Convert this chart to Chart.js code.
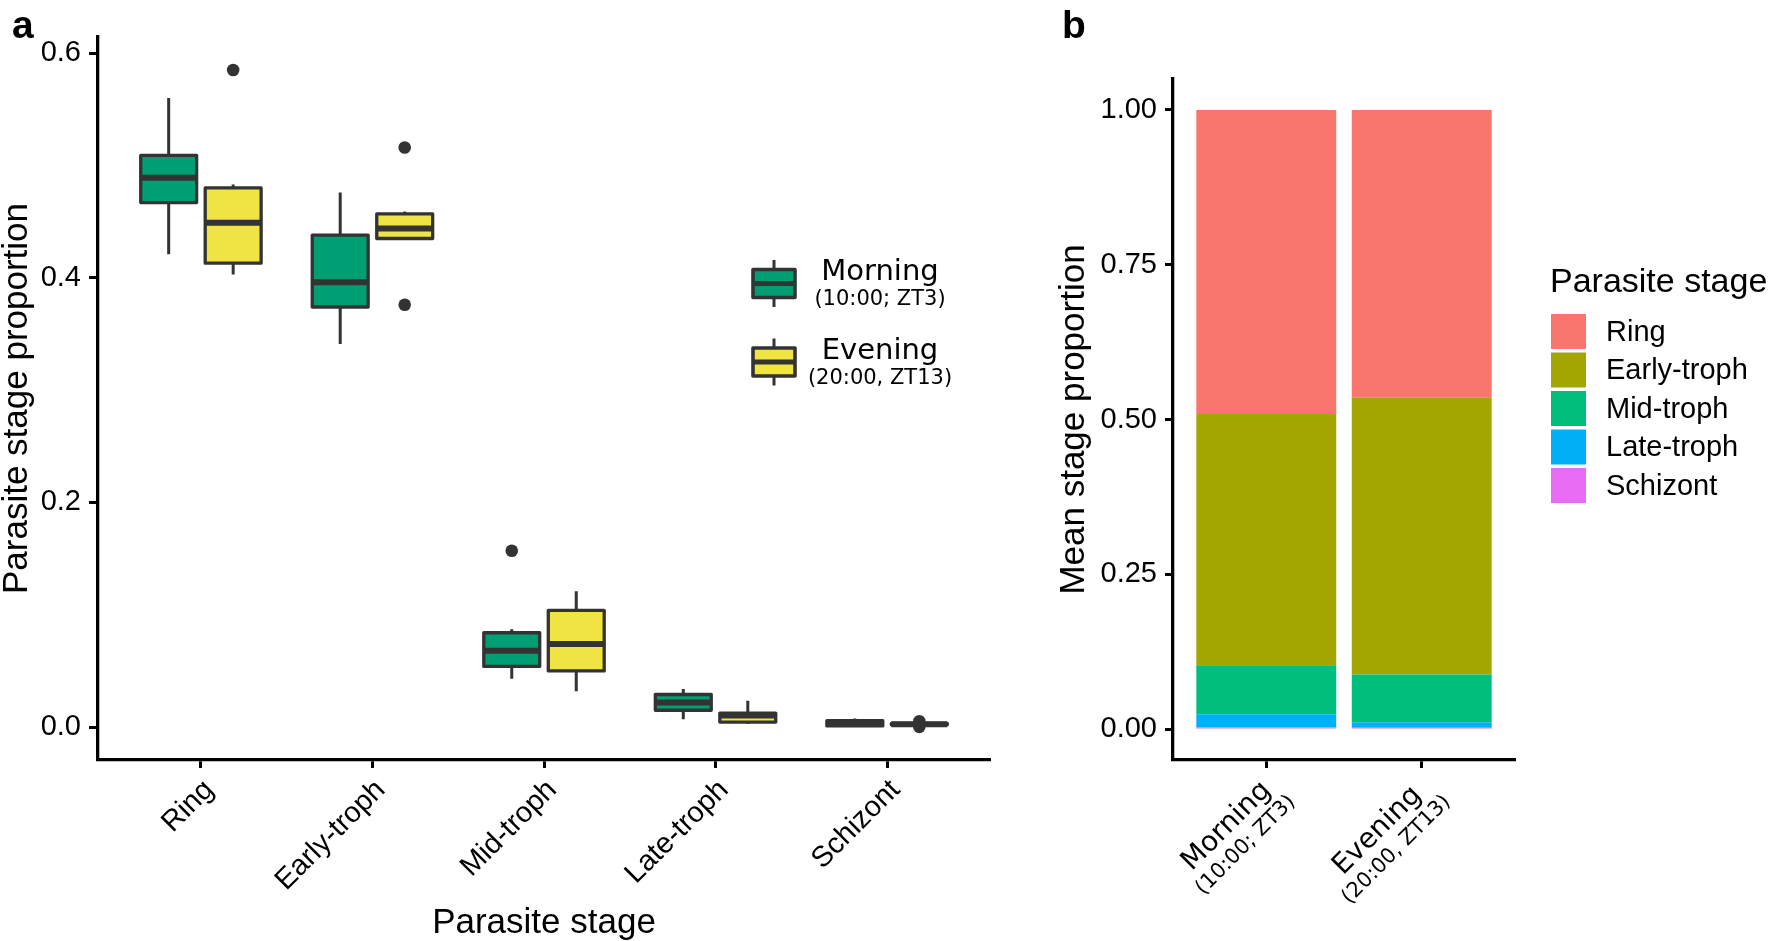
<!DOCTYPE html>
<html>
<head>
<meta charset="utf-8">
<script src="https://cdn.jsdelivr.net/npm/chart.js@4.4.0/dist/chart.umd.min.js"></script>
<style>
    body { margin: 0; background: #fff; overflow: hidden; }
    #wrap { position: relative; width: 1773px; height: 941px; }
    canvas { position: absolute; top: 0; }
    #boxChart { left: 0; }
    #barChart { left: 1000px; }
</style>
</head>
<body>
<div id="wrap">
    <canvas id="boxChart" width="1000" height="941"></canvas>
    <canvas id="barChart" width="773" height="941"></canvas>
</div>
<script>
const stages = ['Ring', 'Early-troph', 'Mid-troph', 'Late-troph', 'Schizont'];
const times = ['Morning', 'Evening'];
const timeNotes = ['(10:00; ZT3)', '(20:00, ZT13)'];

// panel a: box statistics per stage
const morningWhiskerLow = [0.421, 0.341, 0.043, 0.007, 0.0005];
const morningQ1 = [0.467, 0.374, 0.054, 0.015, 0.001];
const morningMedian = [0.489, 0.396, 0.068, 0.022, 0.003];
const morningQ3 = [0.509, 0.438, 0.084, 0.029, 0.0057];
const morningWhiskerHigh = [0.560, 0.476, 0.087, 0.034, 0.0077];
const morningOutliers = [[], [], [0.157], [], []];

const eveningWhiskerLow = [0.403, 0.435, 0.032, 0.003, 0.0012];
const eveningQ1 = [0.413, 0.435, 0.050, 0.0045, 0.002];
const eveningMedian = [0.449, 0.444, 0.074, 0.0104, 0.0026];
const eveningQ3 = [0.480, 0.457, 0.104, 0.0125, 0.0032];
const eveningWhiskerHigh = [0.483, 0.459, 0.121, 0.0235, 0.0042];
const eveningOutliers = [[0.585], [0.516, 0.376], [], [], [0.0052, 0.0002]];

const stageTicks = [0, 0.2, 0.4, 0.6];

// panel b: mean stage proportions (Morning, Evening)
const meanRing = [0.491, 0.465];
const meanEarly = [0.406, 0.447];
const meanMid = [0.079, 0.077];
const meanLate = [0.021, 0.009];
const meanSchizont = [0.003, 0.002];
const meanTicks = [0, 0.25, 0.5, 0.75, 1];

const timeColors = ['#009E73', '#F0E442'];
const stageColors = ['#F8766D', '#A3A500', '#00BF7D', '#00B0F6', '#E76BF3'];

const SANS = "'Liberation Sans', Arial, sans-serif";
const VERD = "'DejaVu Sans', Verdana, sans-serif";
const BOX_LINE = '#333333';

Chart.defaults.font.family = SANS;
Chart.defaults.color = '#000';

const boxSeries = [
    { low: morningWhiskerLow, q1: morningQ1, median: morningMedian, q3: morningQ3, high: morningWhiskerHigh, outliers: morningOutliers },
    { low: eveningWhiskerLow, q1: eveningQ1, median: eveningMedian, q3: eveningQ3, high: eveningWhiskerHigh, outliers: eveningOutliers }
];

// whiskers, outlines, medians and outliers on top of the floating bars
const boxPlotPlugin = {
    id: 'boxPlot',
    afterDatasetsDraw(chart) {
        const ctx = chart.ctx;
        const yScale = chart.scales.y;
        ctx.save();
        ctx.strokeStyle = BOX_LINE;
        ctx.fillStyle = BOX_LINE;
        boxSeries.forEach((s, di) => {
            chart.getDatasetMeta(di).data.forEach((bar, i) => {
                const x = bar.x;
                const half = bar.width / 2;
                const yLow = yScale.getPixelForValue(s.low[i]);
                const yQ1 = yScale.getPixelForValue(s.q1[i]);
                const yMed = yScale.getPixelForValue(s.median[i]);
                const yQ3 = yScale.getPixelForValue(s.q3[i]);
                const yHigh = yScale.getPixelForValue(s.high[i]);

                ctx.lineWidth = 3;
                ctx.beginPath();
                ctx.moveTo(x, yHigh); ctx.lineTo(x, yQ3);
                ctx.moveTo(x, yQ1); ctx.lineTo(x, yLow);
                ctx.stroke();

                ctx.lineWidth = 3.3;
                ctx.lineJoin = 'round';
                ctx.strokeRect(x - half, yQ3, half * 2, yQ1 - yQ3);

                ctx.lineWidth = 6;
                ctx.beginPath();
                ctx.moveTo(x - half, yMed); ctx.lineTo(x + half, yMed);
                ctx.stroke();

                s.outliers[i].forEach(v => {
                    ctx.beginPath();
                    ctx.arc(x, yScale.getPixelForValue(v), 6.3, 0, Math.PI * 2);
                    ctx.fill();
                });
            });
        });
        ctx.restore();
    }
};

// rotated stage labels, panel letter and the Morning/Evening key
const boxDecorPlugin = {
    id: 'boxDecor',
    afterDraw(chart) {
        const ctx = chart.ctx;
        const xScale = chart.scales.x;
        ctx.save();
        ctx.fillStyle = '#000';
        ctx.font = '29px ' + SANS;
        ctx.textAlign = 'right';
        ctx.textBaseline = 'alphabetic';
        stages.forEach((s, i) => {
            ctx.save();
            ctx.translate(xScale.getPixelForValue(i) + 14, 791);
            ctx.rotate(-Math.PI / 4);
            ctx.fillText(s, 0, 0);
            ctx.restore();
        });

        ctx.textAlign = 'left';
        ctx.font = 'bold 39px ' + SANS;
        ctx.fillText('a', 12, 38);

        // legend
        const rows = [283.5, 362];
        times.forEach((t, i) => {
            const cy = rows[i];
            ctx.strokeStyle = BOX_LINE;
            ctx.lineWidth = 3;
            ctx.beginPath();
            ctx.moveTo(774, cy - 23.5); ctx.lineTo(774, cy + 23.5);
            ctx.stroke();
            ctx.fillStyle = timeColors[i];
            ctx.fillRect(753, cy - 14, 42, 28);
            ctx.lineWidth = 3.6;
            ctx.lineJoin = 'round';
            ctx.strokeRect(753, cy - 14, 42, 28);
            ctx.lineWidth = 5;
            ctx.beginPath();
            ctx.moveTo(753, cy); ctx.lineTo(795, cy);
            ctx.stroke();

            ctx.fillStyle = '#000';
            ctx.textAlign = 'center';
            ctx.font = '29px ' + VERD;
            ctx.fillText(t, 880, cy - 3.5);
            ctx.font = '21px ' + VERD;
            ctx.fillText(timeNotes[i], 880, cy + 21.5);
        });
        ctx.restore();
    }
};

// two-line time labels, panel letter and stage legend
const barDecorPlugin = {
    id: 'barDecor',
    afterDraw(chart) {
        const ctx = chart.ctx;
        const xScale = chart.scales.x;
        ctx.save();
        ctx.fillStyle = '#000';
        ctx.textBaseline = 'alphabetic';
        times.forEach((t, i) => {
            ctx.font = '28px ' + VERD;
            const w1 = ctx.measureText(t).width;
            ctx.font = '21px ' + VERD;
            const w2 = ctx.measureText(timeNotes[i]).width;
            const blockW = Math.max(w1, w2);
            ctx.save();
            ctx.translate(xScale.getPixelForValue(i) + 12, 785);
            ctx.rotate(-Math.PI / 4);
            ctx.textAlign = 'center';
            ctx.font = '28px ' + VERD;
            ctx.fillText(t, -blockW / 2, 0);
            ctx.font = '21px ' + VERD;
            ctx.fillText(timeNotes[i], -blockW / 2, 25);
            ctx.restore();
        });

        ctx.textAlign = 'left';
        ctx.font = 'bold 39px ' + SANS;
        ctx.fillText('b', 62, 38);

        // legend
        ctx.font = '34px ' + SANS;
        ctx.fillText('Parasite stage', 550, 292);
        ctx.font = '29px ' + SANS;
        ctx.textBaseline = 'middle';
        stages.forEach((s, i) => {
            const top = 314 + i * 38.5;
            ctx.fillStyle = stageColors[i];
            ctx.fillRect(551, top, 35, 35);
            ctx.fillStyle = '#000';
            ctx.fillText(s, 606, top + 18.5);
        });
        ctx.restore();
    }
};

const axisGrid = {
    display: true,
    drawOnChartArea: false,
    drawTicks: true,
    offset: false,
    tickLength: 8,
    tickWidth: 3,
    tickColor: '#000'
};
const axisBorder = { display: true, color: '#000', width: 3.3 };

// discrete positions with ggplot-like 0.6 expansion on each side
const categoryAxis = (count, height) => ({
    type: 'linear',
    offset: false,
    min: -0.6,
    max: count - 1 + 0.6,
    afterBuildTicks: scale => {
        scale.ticks = Array.from({ length: count }, (_, i) => ({ value: i }));
    },
    ticks: { display: false },
    grid: axisGrid,
    border: axisBorder,
    afterFit: scale => { scale.height = height; }
});

const boxX = categoryAxis(stages.length, 181);
boxX.title = {
    display: true,
    text: 'Parasite stage',
    color: '#000',
    font: { size: 35, lineHeight: 1 },
    padding: { top: 0, bottom: 0 }
};

new Chart(document.getElementById('boxChart'), {
    type: 'bar',
    data: {
        datasets: [
            {
                label: times[0],
                data: stages.map((s, i) => ({ x: i, y: [morningQ1[i], morningQ3[i]] })),
                backgroundColor: timeColors[0],
                borderWidth: 0
            },
            {
                label: times[1],
                data: stages.map((s, i) => ({ x: i, y: [eveningQ1[i], eveningQ3[i]] })),
                backgroundColor: timeColors[1],
                borderWidth: 0
            }
        ]
    },
    options: {
        responsive: false,
        animation: false,
        devicePixelRatio: 1,
        categoryPercentage: 0.752,
        barPercentage: 0.867,
        layout: { padding: { top: 37, right: 10, bottom: 0, left: 0 } },
        plugins: {
            legend: { display: false },
            tooltip: { enabled: false }
        },
        scales: {
            x: boxX,
            y: {
                min: -0.0293,
                max: 0.6144,
                afterBuildTicks: scale => { scale.ticks = stageTicks.map(v => ({ value: v })); },
                ticks: {
                    callback: v => v.toFixed(1),
                    font: { size: 29 },
                    color: '#000',
                    padding: 8
                },
                grid: Object.assign({}, axisGrid, { tickLength: 9 }),
                border: axisBorder,
                title: {
                    display: true,
                    text: 'Parasite stage proportion',
                    color: '#000',
                    font: { size: 35, lineHeight: 1 },
                    padding: { top: 0, bottom: 0 }
                },
                afterFit: scale => { scale.width = 98; }
            }
        }
    },
    plugins: [boxPlotPlugin, boxDecorPlugin]
});

const stageMeans = [meanRing, meanEarly, meanMid, meanLate, meanSchizont];

const barX = categoryAxis(times.length, 181);
barX.stacked = true;

new Chart(document.getElementById('barChart'), {
    type: 'bar',
    data: {
        // Schizont first so it sits at the bottom of the stack
        datasets: stages.map((s, i) => ({
            label: s,
            data: times.map((t, j) => ({ x: j, y: stageMeans[i][j] })),
            backgroundColor: stageColors[i],
            borderWidth: 0
        })).reverse()
    },
    options: {
        responsive: false,
        animation: false,
        devicePixelRatio: 1,
        categoryPercentage: 0.9,
        barPercentage: 1,
        layout: { padding: { top: 79, right: 258, bottom: 0, left: 56.5 } },
        plugins: {
            legend: { display: false },
            tooltip: { enabled: false }
        },
        scales: {
            x: barX,
            y: {
                stacked: true,
                min: -0.05,
                max: 1.05,
                afterBuildTicks: scale => { scale.ticks = meanTicks.map(v => ({ value: v })); },
                ticks: {
                    callback: v => v.toFixed(2),
                    font: { size: 29 },
                    color: '#000',
                    padding: 8
                },
                grid: axisGrid,
                border: axisBorder,
                title: {
                    display: true,
                    text: 'Mean stage proportion',
                    color: '#000',
                    font: { size: 35, lineHeight: 1 },
                    padding: { top: 0, bottom: 0 }
                },
                afterFit: scale => { scale.width = 116.5; }
            }
        }
    },
    plugins: [barDecorPlugin]
});
</script>
</body>
</html>
